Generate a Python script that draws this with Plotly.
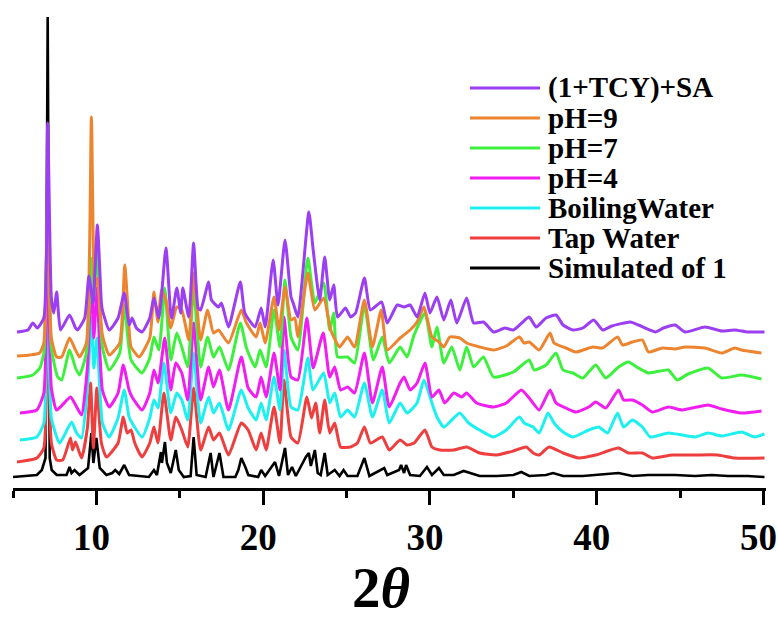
import plotly.graph_objects as go

# ---- data: (2theta, intensity incl. stacking offset) ----
simulated = [(5.0,11),(6.43,13),(6.73,18),(6.95,30),(7.08,471),(7.2,30),(7.32,18),(7.62,13),(8.21,13),(8.39,21),(8.51,15),(8.69,18),(8.99,13),(9.5,20),(9.7,55),(9.82,25),(10.0,50),(10.2,20),(10.6,13),(10.95,15),(11.13,18),(11.37,14),(11.67,23),(11.96,13),(13.15,11),(13.45,18),(13.63,13),(13.87,36),(13.93,25),(14.11,46),(14.23,25),(14.46,15),(14.76,38),(14.94,18),(15.24,11),(15.65,12),(15.83,51),(16.01,13),(16.55,11),(16.85,35),(17.02,11),(17.38,35),(17.62,11),(18.33,11),(18.51,18),(18.69,30),(18.93,21),(19.11,13),(19.7,11),(19.88,18),(20.12,12),(20.71,26),(20.95,12),(21.31,40),(21.49,13),(21.73,21),(21.96,12),(22.38,26),(22.56,31),(22.74,35),(22.86,22),(23.1,38),(23.27,15),(23.45,13),(23.69,35),(23.87,13),(24.29,18),(24.58,12),(24.82,18),(25.06,12),(25.65,12),(26.07,30),(26.37,12),(27.26,20),(27.44,13),(28.15,18),(28.27,23),(28.45,15),(28.57,23),(28.81,13),(29.4,12),(29.82,21),(30.12,13),(30.54,20),(30.83,13),(31.43,13),(32.02,17),(32.98,12),(33.99,12),(35.0,13),(35.48,16),(35.95,12),(36.96,13),(37.38,15),(37.98,12),(39.17,12),(39.94,13),(41.31,15),(42.14,12),(43.1,13),(44.7,13),(45.89,12),(46.9,13),(47.86,12),(49.05,12),(50.06,11)]

tap_water = [(5.24,26),(6.43,30),(6.85,40),(7.08,200),(7.3,45),(7.62,28),(7.98,28),(8.45,50),(8.57,38),(8.75,46),(9.11,30),(9.46,60),(9.65,105),(9.82,40),(10.03,100),(10.3,45),(10.6,31),(11.3,45),(11.61,71),(11.85,55),(12.08,58),(12.3,45),(12.74,31),(13.2,45),(13.45,61),(13.69,45),(14.05,95),(14.46,48),(14.76,71),(15.12,58),(15.48,41),(15.83,100),(16.25,38),(16.73,61),(17.02,48),(17.38,55),(17.92,33),(18.69,65),(19.1,58),(19.58,38),(19.88,55),(20.18,38),(20.65,81),(21.01,45),(21.25,108),(21.67,51),(22.08,45),(22.62,91),(22.9,70),(23.15,85),(23.39,55),(23.69,88),(23.99,55),(24.29,65),(24.64,41),(25.24,41),(25.65,45),(26.07,61),(26.43,45),(27.14,51),(27.56,38),(28.21,48),(28.63,43),(29.05,45),(29.7,58),(30.12,41),(30.6,38),(31.43,38),(32.2,41),(32.98,35),(33.99,33),(35.0,37),(35.77,41),(36.19,35),(36.55,33),(37.14,41),(37.98,35),(38.93,30),(39.94,33),(41.31,40),(41.9,35),(42.74,35),(43.33,30),(44.52,33),(45.89,33),(47.26,33),(48.27,30),(50.06,30)]

boiling_water = [(5.42,48),(6.43,51),(6.85,65),(7.08,230),(7.3,70),(7.8,45),(8.51,66),(8.81,55),(9.11,50),(9.46,100),(9.7,170),(9.85,120),(10.03,150),(10.36,65),(10.77,51),(11.3,70),(11.67,98),(11.96,71),(12.14,65),(12.74,51),(13.2,70),(13.45,88),(13.7,80),(14.05,125),(14.46,75),(14.82,95),(15.12,88),(15.48,68),(15.83,135),(16.25,65),(16.73,91),(17.02,75),(17.38,85),(17.92,58),(18.69,98),(19.1,80),(19.58,68),(19.88,85),(20.18,68),(20.65,111),(21.01,78),(21.25,138),(21.67,81),(22.08,78),(22.68,130),(22.98,98),(23.63,115),(23.99,85),(24.29,95),(24.64,71),(25.06,78),(25.48,71),(26.07,105),(26.55,71),(27.14,98),(27.56,65),(28.21,85),(28.63,75),(29.23,85),(29.64,108),(30.12,85),(30.42,71),(30.83,61),(31.31,68),(31.79,75),(32.32,65),(32.98,58),(33.81,51),(34.58,58),(35.36,71),(35.65,65),(36.19,61),(36.55,55),(37.08,75),(37.44,65),(37.98,56),(38.57,51),(39.52,58),(40.12,61),(40.65,55),(41.25,75),(41.61,61),(42.14,68),(42.74,61),(43.21,51),(44.29,55),(45.12,53),(45.89,51),(46.67,55),(47.5,52),(48.69,56),(49.46,51),(50.06,54)]

ph4 = [(5.42,75),(6.43,78),(6.85,95),(7.08,250),(7.3,100),(7.62,78),(8.45,91),(8.75,83),(9.11,73),(9.46,120),(9.7,210),(9.85,150),(10.03,200),(10.36,98),(10.77,81),(11.3,95),(11.61,123),(11.96,98),(12.14,91),(12.74,78),(13.2,95),(13.45,118),(13.7,105),(14.1,150),(14.46,98),(14.76,125),(15.12,115),(15.48,88),(15.83,165),(16.25,88),(16.73,121),(17.02,101),(17.38,118),(17.92,78),(18.69,131),(19.1,100),(19.58,91),(19.88,111),(20.18,91),(20.65,135),(21.01,98),(21.25,171),(21.67,111),(22.08,108),(22.62,170),(23.0,120),(23.6,155),(23.99,111),(24.29,121),(24.64,98),(25.06,101),(25.48,95),(26.07,135),(26.55,85),(27.14,121),(27.56,81),(28.21,105),(28.45,111),(28.81,98),(29.23,105),(29.7,125),(30.12,91),(30.54,98),(30.89,85),(31.43,95),(31.9,91),(32.2,95),(32.8,85),(33.81,81),(34.58,85),(35.48,98),(35.95,90),(36.55,78),(37.2,98),(37.56,85),(38.15,80),(38.75,76),(39.52,81),(39.94,86),(40.54,80),(41.31,98),(41.61,88),(42.14,88),(42.74,83),(43.33,76),(44.29,81),(45.12,78),(46.67,83),(47.5,79),(48.69,75),(49.88,77)]

ph7 = [(5.24,110),(6.19,113),(6.61,120),(6.85,135),(7.08,290),(7.3,140),(7.68,111),(7.92,108),(8.39,138),(8.75,120),(8.99,113),(9.4,135),(9.7,230),(9.85,190),(10.03,240),(10.36,141),(10.77,118),(11.4,135),(11.67,183),(12.08,128),(12.74,115),(13.2,130),(13.45,151),(13.75,138),(14.1,200),(14.46,128),(14.82,155),(15.12,141),(15.48,121),(15.83,200),(16.25,121),(16.67,151),(17.02,131),(17.38,141),(17.92,118),(18.63,165),(19.0,140),(19.52,121),(19.82,138),(20.18,121),(20.65,178),(21.01,141),(21.31,208),(21.67,151),(22.08,138),(22.68,230),(23.1,185),(23.63,205),(23.99,158),(24.23,175),(24.46,131),(25.06,131),(25.48,125),(26.07,183),(26.61,128),(27.14,151),(27.56,125),(28.21,141),(28.63,131),(29.05,153),(29.7,175),(30.12,141),(30.42,161),(30.83,125),(31.31,141),(31.79,118),(32.2,141),(32.62,121),(33.21,131),(33.81,111),(35.0,116),(35.95,128),(36.25,118),(36.96,123),(37.56,135),(37.98,118),(38.57,115),(39.17,110),(39.94,123),(40.54,110),(41.31,121),(41.9,126),(42.5,120),(43.1,115),(44.29,118),(44.82,108),(45.48,114),(46.67,120),(47.5,110),(48.69,113),(49.88,109)]

ph9 = [(5.24,132),(6.0,133),(6.6,135),(6.85,145),(7.08,300),(7.3,150),(7.62,131),(7.92,131),(8.39,150),(8.69,140),(8.99,131),(9.4,145),(9.7,371),(9.9,200),(10.06,210),(10.36,153),(10.77,133),(11.4,145),(11.7,223),(12.0,150),(12.08,141),(12.56,131),(13.2,150),(13.45,196),(13.69,166),(13.9,198),(14.17,188),(14.46,160),(14.82,181),(15.12,178),(15.54,148),(15.83,215),(16.25,148),(16.67,178),(17.02,155),(17.32,158),(17.92,145),(18.69,178),(19.0,165),(19.58,151),(19.82,165),(20.12,145),(20.65,191),(20.95,158),(21.31,201),(21.67,168),(21.9,170),(22.08,151),(22.68,215),(23.1,178),(23.63,190),(24.05,158),(24.58,141),(25.06,151),(25.48,141),(26.07,188),(26.55,141),(27.08,178),(27.44,138),(28.21,150),(28.81,158),(29.23,166),(29.64,181),(30.12,151),(30.54,146),(30.83,141),(31.19,151),(31.79,150),(32.2,145),(32.98,141),(33.81,138),(34.58,142),(35.36,151),(35.65,145),(35.95,146),(36.55,138),(37.2,155),(37.44,145),(38.15,140),(38.75,136),(39.76,141),(40.36,140),(41.25,151),(41.55,143),(42.14,146),(42.74,148),(43.1,136),(43.93,140),(44.7,139),(45.3,141),(46.49,140),(47.5,135),(48.27,140),(48.69,138),(49.88,135)]

tcy_sa = [(5.24,156),(5.9,158),(6.19,165),(6.45,160),(6.85,170),(7.08,365),(7.3,190),(7.45,175),(7.62,196),(7.85,158),(8.39,173),(8.75,160),(8.87,158),(9.3,170),(9.55,212),(9.8,185),(10.06,263),(10.3,185),(10.36,178),(10.77,158),(11.3,170),(11.67,195),(11.96,163),(12.14,170),(12.4,160),(12.74,156),(13.2,170),(13.45,190),(13.75,170),(14.17,240),(14.45,175),(14.52,170),(14.82,200),(15.06,175),(15.18,200),(15.54,171),(15.83,245),(16.1,180),(16.25,178),(16.73,206),(16.9,188),(17.32,181),(17.5,185),(17.92,161),(18.63,206),(18.9,175),(19.52,161),(19.88,180),(20.12,161),(20.6,228),(20.89,183),(21.31,248),(21.67,191),(21.8,185),(22.08,171),(22.74,276),(22.98,241),(23.39,188),(23.69,231),(23.99,188),(24.23,203),(24.46,171),(24.94,180),(25.24,171),(25.54,175),(26.07,210),(26.43,178),(27.1,186),(27.44,165),(28.04,183),(28.45,181),(28.81,183),(29.23,171),(29.7,195),(30.0,175),(30.42,191),(30.83,168),(31.25,188),(31.61,165),(32.2,190),(32.62,165),(33.21,166),(33.81,156),(34.5,160),(35.0,158),(35.5,165),(35.95,171),(36.37,161),(36.96,170),(37.56,173),(37.98,163),(38.57,158),(39.17,160),(39.82,168),(40.36,158),(40.9,162),(42.02,166),(42.5,163),(43.51,156),(44.0,160),(44.7,163),(45.3,156),(46.49,161),(47.5,157),(48.27,158),(49.05,156),(50.06,156)]

series_names = ["(1+TCY)+SA", "pH=9", "pH=7", "pH=4", "BoilingWater", "Tap Water", "Simulated of 1"]
series_data = [tcy_sa, ph9, ph7, ph4, boiling_water, tap_water, simulated]
series_colors = ["#9C3EF2", "#EC8430", "#3EF03E", "#F01EF0", "#1EF0F0", "#EE3E3E", "#000000"]

x_ticks = [10, 20, 30, 40, 50]

fig = go.Figure()
# draw bottom-most (simulated) first so the sample curves sit on top
for name, data, col in reversed(list(zip(series_names, series_data, series_colors))):
    is_sim = name.startswith("Simulated")
    fig.add_trace(go.Scatter(
        x=[p[0] for p in data], y=[p[1] for p in data],
        mode="lines", name=name,
        line=dict(color=col, width=2.6 if is_sim else 3.0,
                  shape="linear" if is_sim else "spline",
                  smoothing=0.5),
        showlegend=False))

W, H = 778, 619
L, R, T, B = 13, 12, 15, 131
pw, ph = W - L - R, H - T - B

# custom legend (swatch + bold serif label)
for i, (name, col) in enumerate(zip(series_names, series_colors)):
    py = 88 + 30 * i
    yp = (H - B - py) / ph
    fig.add_shape(type="line", xref="paper", yref="paper",
                  x0=(470 - L) / pw, x1=(540 - L) / pw, y0=yp, y1=yp,
                  line=dict(color=col, width=3))
    fig.add_annotation(xref="paper", yref="paper", x=(546 - L) / pw, y=yp,
                       xanchor="left", yanchor="middle", showarrow=False,
                       text="<b>%s</b>" % name,
                       font=dict(family="Liberation Serif", size=29, color="black"))

# axis title
fig.add_annotation(xref="paper", yref="paper", x=(381 - L) / pw, y=(H - B - 587) / ph,
                   xanchor="center", yanchor="middle", showarrow=False,
                   text="<b>2<i>θ</i></b>",
                   font=dict(family="Liberation Serif", size=57, color="black"))

fig.update_layout(
    width=W, height=H,
    margin=dict(l=L, r=R, t=T, b=B, autoexpand=False),
    paper_bgcolor="white", plot_bgcolor="white",
    showlegend=False,
    xaxis=dict(range=[5, 50.15], tickmode="array", tickvals=x_ticks,
               ticktext=["<b>%d</b>" % v for v in x_ticks],
               ticks="outside", ticklen=14, tickwidth=3, tickcolor="black",
               showline=True, linewidth=3, linecolor="black",
               showgrid=False, zeroline=False, automargin=False,
               minor=dict(dtick=5, tick0=0, ticks="outside", ticklen=7, tickwidth=3, tickcolor="black", showgrid=False),
               tickfont=dict(family="Liberation Serif", size=37, color="black"),
               ticklabelstandoff=1, ticklabelshift=-5, ticklabeloverflow="allow"),
    yaxis=dict(range=[0, 473], visible=False, showgrid=False, zeroline=False),
)

fig.write_html("out.html")
